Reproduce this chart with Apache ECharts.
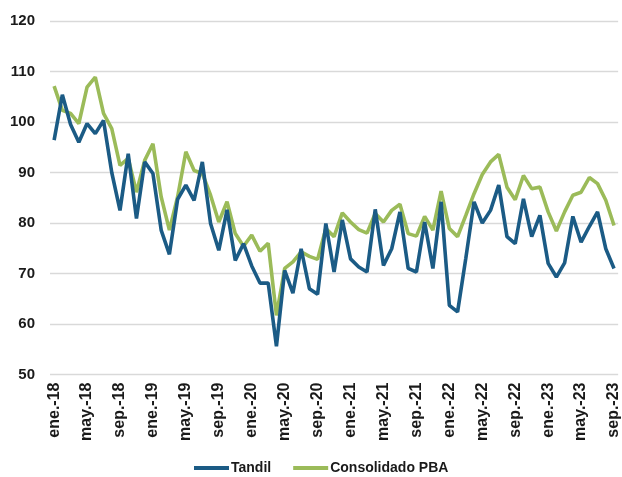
<!DOCTYPE html>
<html>
<head>
<meta charset="utf-8">
<script src="https://cdn.jsdelivr.net/npm/echarts@6/dist/echarts.min.js"></script>
<style>
  html, body { margin: 0; padding: 0; background: #fff; }
  #chart { width: 622px; height: 477px; }
</style>
</head>
<body>
<div id="chart"></div>
<script>
// Monthly index, Jan 2018 - Sep 2023
const months = [
  'ene.-18','feb.-18','mar.-18','abr.-18','may.-18','jun.-18','jul.-18','ago.-18','sep.-18','oct.-18','nov.-18','dic.-18',
  'ene.-19','feb.-19','mar.-19','abr.-19','may.-19','jun.-19','jul.-19','ago.-19','sep.-19','oct.-19','nov.-19','dic.-19',
  'ene.-20','feb.-20','mar.-20','abr.-20','may.-20','jun.-20','jul.-20','ago.-20','sep.-20','oct.-20','nov.-20','dic.-20',
  'ene.-21','feb.-21','mar.-21','abr.-21','may.-21','jun.-21','jul.-21','ago.-21','sep.-21','oct.-21','nov.-21','dic.-21',
  'ene.-22','feb.-22','mar.-22','abr.-22','may.-22','jun.-22','jul.-22','ago.-22','sep.-22','oct.-22','nov.-22','dic.-22',
  'ene.-23','feb.-23','mar.-23','abr.-23','may.-23','jun.-23','jul.-23','ago.-23','sep.-23'
];

const tandil = [
  96.4, 105.4, 99.5, 96.0, 99.7, 97.7, 100.3, 90.0, 82.5, 93.7, 80.9, 92.1,
  89.8, 78.6, 73.8, 84.7, 87.5, 84.5, 92.1, 79.9, 74.6, 82.6, 72.6, 75.9,
  71.5, 68.1, 68.1, 55.6, 70.6, 66.1, 74.9, 67.0, 65.9, 79.9, 70.3, 80.6,
  72.9, 71.3, 70.3, 82.7, 71.6, 74.9, 82.2, 71.0, 70.3, 80.2, 71.0, 84.2,
  63.7, 62.4, 73.0, 84.2, 80.0, 82.5, 87.5, 77.3, 75.9, 84.8, 77.3, 81.5,
  72.0, 69.3, 72.1, 81.3, 76.2, 79.3, 82.2, 74.9, 71.0
];

const consolidadoPBA = [
  107.1, 102.3, 101.7, 99.7, 106.9, 108.9, 101.7, 98.7, 91.4, 92.8, 86.1, 92.4,
  95.7, 85.2, 78.6, 85.2, 94.1, 90.4, 89.8, 85.5, 80.2, 84.2, 77.9, 75.4,
  77.6, 74.4, 76.0, 61.7, 71.0, 72.3, 74.3, 73.4, 72.8, 78.9, 77.3, 82.0,
  80.2, 78.7, 78.0, 81.9, 80.2, 82.5, 83.7, 77.9, 77.4, 81.3, 78.6, 86.3,
  78.9, 77.3, 81.5, 85.8, 89.6, 92.1, 93.6, 87.1, 84.6, 89.4, 86.8, 87.1,
  82.2, 78.4, 82.2, 85.5, 86.1, 89.0, 87.8, 84.5, 79.5
];

const yTicks = { min: 50, max: 120, step: 10 };

const blue = '#1b5b85';
const green = '#9bbb59';
const labelFont = 'Liberation Sans';

const chart = echarts.init(document.getElementById('chart'), null, { renderer: 'canvas' });

chart.setOption({
  animation: false,
  backgroundColor: '#ffffff',
  grid: { left: 50, right: 1, top: 21, bottom: 102.5, containLabel: false },
  xAxis: {
    type: 'category',
    data: months,
    boundaryGap: true,
    axisLine: { show: false },
    axisTick: { show: false },
    axisLabel: {
      interval: 3,
      rotate: 90,
      margin: 8,
      fontFamily: labelFont,
      fontWeight: 'bold',
      fontSize: 16,
      color: '#1a1a1a'
    },
    splitLine: { show: false }
  },
  yAxis: {
    type: 'value',
    min: yTicks.min,
    max: yTicks.max,
    interval: yTicks.step,
    axisLine: { show: false },
    axisTick: { show: false },
    axisLabel: {
      margin: 15,
      fontFamily: labelFont,
      fontWeight: 'bold',
      fontSize: 15,
      color: '#1a1a1a'
    },
    splitLine: { show: true, lineStyle: { color: '#d9d9d9', width: 1.3 } }
  },
  legend: {
    top: 456,
    left: 189,
    data: ['Tandil', 'Consolidado PBA'],
    icon: 'rect',
    itemWidth: 35,
    itemHeight: 4,
    itemGap: 22,
    textStyle: {
      fontFamily: labelFont,
      fontWeight: 'bold',
      fontSize: 14,
      color: '#1a1a1a',
      padding: [0, 0, 0, -3]
    }
  },
  series: [
    {
      name: 'Consolidado PBA',
      type: 'line',
      data: consolidadoPBA,
      showSymbol: false,
      symbol: 'none',
      z: 2,
      lineStyle: { color: green, width: 3.6 },
      itemStyle: { color: green }
    },
    {
      name: 'Tandil',
      type: 'line',
      data: tandil,
      showSymbol: false,
      symbol: 'none',
      z: 3,
      lineStyle: { color: blue, width: 3.6 },
      itemStyle: { color: blue }
    }
  ]
});
</script>
</body>
</html>
